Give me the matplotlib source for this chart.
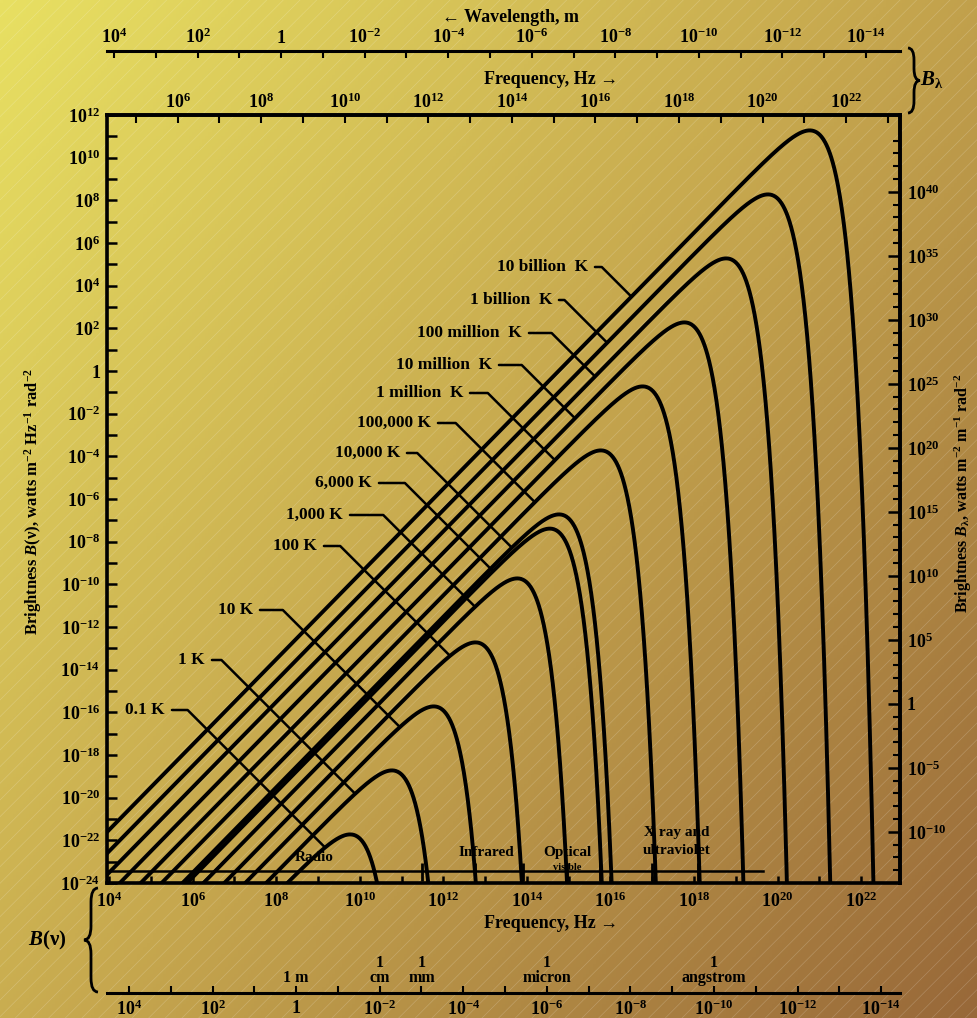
import numpy as np
import matplotlib
matplotlib.use("Agg")
import matplotlib.pyplot as plt
from matplotlib.path import Path
from matplotlib.patches import PathPatch, Rectangle
from matplotlib.ticker import NullFormatter
from matplotlib.transforms import blended_transform_factory

plt.rcParams['font.family'] = ['Liberation Serif', 'DejaVu Serif']
plt.rcParams['font.weight'] = 'bold'
plt.rcParams['mathtext.fontset'] = 'custom'
plt.rcParams['mathtext.rm'] = 'Liberation Serif:bold'
plt.rcParams['mathtext.it'] = 'Liberation Serif:italic:bold'
plt.rcParams['mathtext.bf'] = 'Liberation Serif:bold'
plt.rcParams['mathtext.default'] = 'rm'
plt.rcParams['hatch.linewidth'] = 0.5

# physical constants (SI)
H = 6.62607e-34
K_B = 1.380649e-23
C = 2.99792458e8

# one curve per temperature, hottest first
temperatures = [1e10, 1e9, 1e8, 1e7, 1e6, 1e5, 1e4, 6e3, 1e3, 1e2, 10.0, 1.0, 0.1]
temp_labels = ["10 billion  K", "1 billion  K", "100 million  K", "10 million  K",
               "1 million  K", "100,000 K", "10,000 K", "6,000 K", "1,000 K",
               "100 K", "10 K", "1 K", "0.1 K"]
# log10(frequency) where each leader meets its curve
leader_lognu = [16.5, 15.92, 15.63, 15.15, 14.67, 14.19, 13.64, 13.19, 12.76,
                12.16, 10.96, 9.89, 9.17]
# right end / middle of each label text, in picture pixels
label_px = [(588, 267), (552, 300), (522, 333), (492, 365), (463, 393), (431, 423),
            (400, 453), (372, 483), (343, 515), (317, 546), (253, 610), (205, 660),
            (165, 710)]

# spectral band bar near the bottom
band_level = -23.44          # log10 B of the bar
band_end_lognu = 19.65
band_marks_lognu = [11.5, 12.75, 13.9, 14.95, 15.75, 17.0, 18.1]
band_names = ["Radio", "Infrared", "Optical", "X ray and\nultraviolet"]
band_name_lognu = [8.9, 13.02, 14.96, 17.59]
band_name_logb = [-22.79, -22.55, -22.55, -22.05]

# axis ticks (exponents)
freq_exps = list(range(4, 23, 2))
b_nu_exps = list(range(-24, 13, 2))
b_lam_exps = list(range(-10, 41, 5))
wl_exps = list(range(4, -15, -2))
top_freq_exps = list(range(6, 23, 2))

# named wavelengths under the frequency axis
wl_marks = [1.0, 1e-2, 1e-3, 1e-6, 1e-10]
wl_mark_labels = ["1 m", "1\ncm", "1\nmm", "1\nmicron", "1\nangstrom"]

W, HGT = 977, 1018
X0, X1, Y0, Y1 = 107, 900, 115, 883      # plot frame in pixels
F_TOP = 10 ** 0.36                         # offset of the B_lambda scales
TICK_FS = 13


def pow_label(k):
    return "1" if k == 0 else r"$10^{%d}$" % k


def planck(nu, T):
    x = H * nu / (K_B * T)
    xs = np.minimum(x, 50.0)
    logden = np.where(x < 50, np.log10(np.expm1(xs)), x / np.log(10))
    logb = np.log10(2 * H / C ** 2) + 3 * np.log10(nu) - logden
    return 10 ** np.clip(logb, -40, None)


def px_to_axes(px, py):
    return (px - X0) / (X1 - X0), (Y1 - py) / (Y1 - Y0)


def curly_brace(fig, x, top, bottom, w, side):
    # side=-1 draws "{", side=+1 draws "}" ; pixel coordinates
    m = (top + bottom) / 2
    s = side
    pts = [(x - s * w / 2, top), (x, top), (x, top + w), (x, m - w), (x, m),
           (x + s * w / 2, m), (x, m), (x, m + w), (x, bottom - w), (x, bottom),
           (x - s * w / 2, bottom)]
    codes = [Path.MOVETO, Path.CURVE3, Path.CURVE3, Path.LINETO, Path.CURVE3,
             Path.CURVE3, Path.CURVE3, Path.CURVE3, Path.LINETO, Path.CURVE3,
             Path.CURVE3]
    verts = [(px / W, 1 - py / HGT) for px, py in pts]
    fig.patches.append(PathPatch(Path(verts, codes), transform=fig.transFigure,
                                 fill=False, lw=2.0, color='black'))


fig = plt.figure(figsize=(W / 100, HGT / 100), dpi=100)

# aged paper background
bg = fig.add_axes([0, 0, 1, 1], zorder=-10)
gx, gy = np.meshgrid(np.linspace(0, 1, 300), np.linspace(0, 1, 300))
t = 0.55 * gx + 0.45 * gy
img = np.dstack([np.interp(t, [0, 0.5, 1], [232, 198, 152]),
                 np.interp(t, [0, 0.5, 1], [224, 167, 104]),
                 np.interp(t, [0, 0.5, 1], [98, 78, 57])]) / 255
bg.imshow(img, extent=[0, 1, 0, 1], aspect='auto', origin='upper')
bg.add_patch(Rectangle((0, 0), 1, 1, transform=bg.transAxes, facecolor='none',
                       edgecolor='white', hatch='//', lw=0, alpha=0.2))
bg.set_xlim(0, 1)
bg.set_ylim(0, 1)
bg.set_axis_off()

ax = fig.add_axes([X0 / W, 1 - Y1 / HGT, (X1 - X0) / W, (Y1 - Y0) / HGT])
ax.set_facecolor('none')
ax.set_xscale('log')
ax.set_yscale('log')
ax.set_xlim(10 ** 3.95, 10 ** 22.93)
ax.set_ylim(1e-24, 1e12)

nu = np.logspace(3.9, 23.1, 4000)
for T in temperatures:
    ax.plot(nu, planck(nu, T), color='black', lw=2.8, solid_capstyle='round', zorder=3)

# labels with leaders
for T, lab, lnu, (lx, ly) in zip(temperatures, temp_labels, leader_lognu, label_px):
    nu_t = 10 ** lnu
    ax.annotate(lab, xy=(nu_t, planck(nu_t, T)), xycoords='data',
                xytext=px_to_axes(lx, ly), textcoords='axes fraction',
                ha='right', va='center', fontsize=12.5, fontweight='bold',
                arrowprops=dict(arrowstyle='-', color='black', lw=1.8,
                                connectionstyle='angle,angleA=0,angleB=-45,rad=0',
                                relpos=(1, 0.5), shrinkA=3, shrinkB=0),
                zorder=5)

# spectral bands
ax.plot([10 ** 3.95, 10 ** band_end_lognu], [10 ** band_level] * 2, color='black', lw=1.8,
        zorder=3)
ax.vlines([10 ** v for v in band_marks_lognu], 10 ** (band_level - 0.45),
          10 ** (band_level + 0.4), color='black', lw=2.0, zorder=3)
for name, lnu, lb in zip(band_names, band_name_lognu, band_name_logb):
    ax.text(10 ** lnu, 10 ** lb, name, ha='center', va='center', fontsize=11,
            fontweight='bold', linespacing=1.45, zorder=4)
ax.text(10 ** 14.96, 10 ** (band_level + 0.15), "visible", ha='center', va='center',
        fontsize=7.5, fontweight='bold', zorder=4)

# main axes ticks
ax.set_xticks([10.0 ** k for k in freq_exps], labels=[pow_label(k) for k in freq_exps])
ax.set_xticks([10.0 ** k for k in range(4, 23) if k % 2], minor=True)
ax.set_yticks([10.0 ** k for k in b_nu_exps], labels=[pow_label(k) for k in b_nu_exps])
ax.set_yticks([10.0 ** k for k in range(-23, 12, 2)], minor=True)
ax.xaxis.set_minor_formatter(NullFormatter())
ax.yaxis.set_minor_formatter(NullFormatter())
ax.tick_params(axis='both', which='both', direction='in', width=1.8, labelsize=TICK_FS)
ax.tick_params(axis='y', which='both', length=7, pad=5)
ax.tick_params(axis='x', which='both', length=5, pad=6)
for sp in ax.spines.values():
    sp.set_linewidth(2.6)

# right scale: B_lambda
ax2 = ax.twinx()
ax2.set_yscale('log')
ax2.set_ylim(1e-14, 1e46)
ax2.set_yticks([10.0 ** k for k in b_lam_exps], labels=[pow_label(k) for k in b_lam_exps])
ax2.set_yticks([10.0 ** k for k in range(-14, 47) if k % 5], minor=True)
ax2.yaxis.set_minor_formatter(NullFormatter())
ax2.tick_params(axis='y', which='major', direction='in', length=9, width=1.8,
                labelsize=TICK_FS, pad=5)
ax2.tick_params(axis='y', which='minor', direction='in', length=5, width=1.5)
ax2.spines['right'].set_linewidth(2.6)

# top frequency scale for B_lambda
top_nu = ax.secondary_xaxis('top', functions=(lambda x: x * F_TOP, lambda x: x / F_TOP))
top_nu.set_xticks([10.0 ** k for k in top_freq_exps],
                  labels=[pow_label(k) for k in top_freq_exps])
top_nu.set_xticks([10.0 ** k for k in range(4, 24) if k % 2], minor=True)
top_nu.xaxis.set_minor_formatter(NullFormatter())
top_nu.tick_params(which='both', direction='in', length=6, width=1.5, labelsize=TICK_FS,
                   pad=2)
top_nu.spines['top'].set_linewidth(2.6)

# top wavelength scale
top_wl = ax.secondary_xaxis(1 + (Y0 - 51) / (Y1 - Y0),
                            functions=(lambda x: C / (x * F_TOP), lambda x: C / (x * F_TOP)))
top_wl.set_xticks([10.0 ** k for k in wl_exps], labels=[pow_label(k) for k in wl_exps])
top_wl.set_xticks([10.0 ** k for k in range(5, -16, -2)], minor=True)
top_wl.xaxis.set_minor_formatter(NullFormatter())
top_wl.tick_params(which='both', direction='in', length=5, width=1.5, labelsize=TICK_FS,
                   pad=3)
top_wl.spines['top'].set_linewidth(2.2)

# bottom wavelength scale
bot_wl = ax.secondary_xaxis(-(993 - Y1) / (Y1 - Y0),
                            functions=(lambda x: C / x, lambda x: C / x))
bot_wl.set_xticks([10.0 ** k for k in wl_exps], labels=[pow_label(k) for k in wl_exps])
bot_wl.set_xticks([10.0 ** k for k in range(5, -16, -2)], minor=True)
bot_wl.xaxis.set_minor_formatter(NullFormatter())
bot_wl.tick_params(which='both', direction='in', length=5, width=1.5, labelsize=TICK_FS,
                   pad=5)
bot_wl.spines['bottom'].set_linewidth(2.2)

trans = blended_transform_factory(ax.transData, ax.transAxes)
for lam, lab in zip(wl_marks, wl_mark_labels):
    ax.text(C / lam, -(986 - Y1) / (Y1 - Y0), lab, transform=trans, ha='center',
            va='bottom', fontsize=11.5, fontweight='bold', linespacing=0.9)

# axis titles
fig.text(551 / W, 1 - 923 / HGT, "Frequency, Hz \u2192", ha='center', va='center',
         fontsize=13, fontweight='bold')
fig.text(551 / W, 1 - 79 / HGT, "Frequency, Hz \u2192", ha='center', va='center',
         fontsize=13, fontweight='bold')
fig.text(511 / W, 1 - 17 / HGT, "\u2190 Wavelength, m", ha='center', va='center',
         fontsize=13, fontweight='bold')
fig.text(33 / W, 1 - 501 / HGT,
         r"Brightness $\mathit{B}(\nu)$, watts m$^{-2}$ Hz$^{-1}$ rad$^{-2}$",
         rotation=90, ha='center', va='center', fontsize=12, fontweight='bold')
fig.text(963 / W, 1 - 493 / HGT,
         r"Brightness $\mathit{B}_\lambda$, watts m$^{-2}$ m$^{-1}$ rad$^{-2}$",
         rotation=90, ha='center', va='center', fontsize=11.5, fontweight='bold')

# braces naming the two scale sets
curly_brace(fig, 91, 888, 992, 14, -1)
fig.text(47 / W, 1 - 940 / HGT, r"$\mathit{B}(\nu)$", ha='center', va='center', fontsize=15)
curly_brace(fig, 914, 48, 113, 12, 1)
fig.text(932 / W, 1 - 80 / HGT, r"$\mathit{B}_\lambda$", ha='center', va='center',
         fontsize=15)

fig.savefig("out.png", dpi=100)
